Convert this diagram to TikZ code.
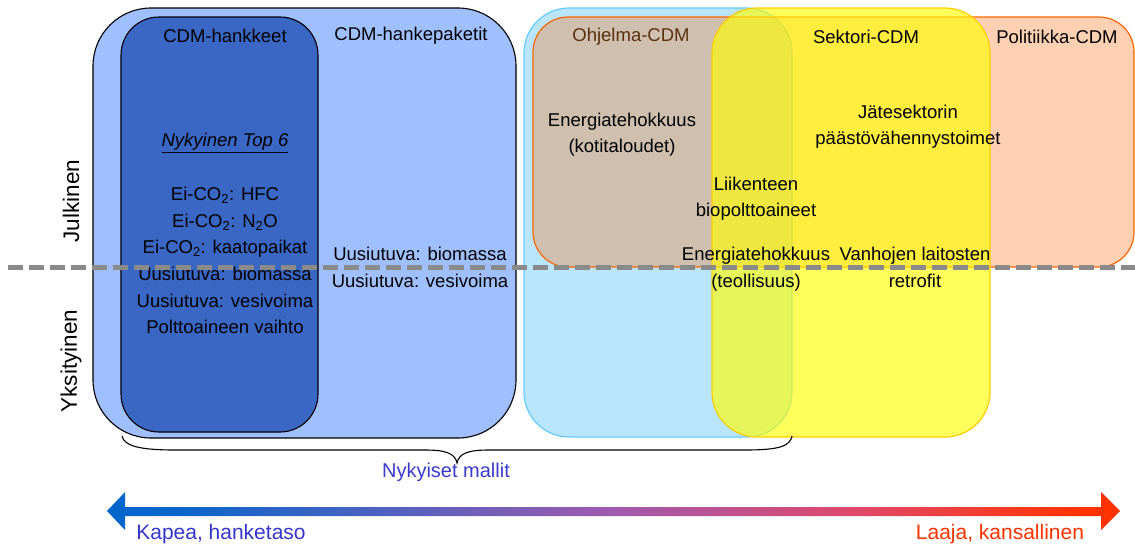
\documentclass[tikz,border=0pt]{standalone}
\usepackage{fontspec}
\setmainfont{Liberation Sans}
\usetikzlibrary{positioning}
\definecolor{pkt}{HTML}{A0BFFF}
\definecolor{hnk}{HTML}{3A66C4}
\definecolor{ohj}{HTML}{B9E6FC}
\definecolor{ohjline}{HTML}{66CCFF}
\definecolor{pol}{HTML}{FF6600}
\definecolor{sek}{HTML}{FFFF00}
\definecolor{sekline}{HTML}{FFCC00}
\definecolor{brn}{HTML}{5C3010}
\definecolor{nyk}{HTML}{3B3BCC}
\definecolor{kap}{HTML}{3535CC}
\definecolor{laa}{HTML}{FF3300}
\definecolor{arrL}{HTML}{0066CC}
\definecolor{arrLM}{HTML}{4A62C0}
\definecolor{arrM}{HTML}{A05AAE}
\definecolor{arrMR}{HTML}{E0486A}
\definecolor{arrR}{HTML}{FF3300}
\definecolor{divgray}{HTML}{8A8A8A}
\tikzset{
  zone/.style={rectangle, anchor=north west, inner sep=0pt, outer sep=0pt},
  txt/.style={font=\fontsize{18.5}{26}\selectfont, align=center, inner sep=0pt},
  side/.style={font=\fontsize{22.5}{26}\selectfont, rotate=90, inner sep=0pt},
  endlbl/.style={font=\fontsize{21}{24}\selectfont, inner sep=0pt},
}
\newcommand{\eico}{Ei-CO\textsubscript{2}}
\pgfdeclarehorizontalshading{widthgrad}{100bp}{color(0bp)=(arrL); color(27bp)=(arrL); color(38bp)=(arrLM); color(50bp)=(arrM); color(62bp)=(arrMR); color(73bp)=(arrR); color(100bp)=(arrR)}

\begin{document}
\begin{tikzpicture}[x=1pt, y=-1pt]
  \useasboundingbox (0,0) rectangle (1135,550);
  % nykyiset mallit
  \node[zone, draw=black, line width=1.1pt, fill=pkt, rounded corners=58pt, minimum width=423pt, minimum height=430pt] (hp) at (93,8) {};
  \node[zone, draw=black, line width=1.1pt, fill=hnk, rounded corners=38pt, minimum width=197pt, minimum height=415pt] (hk) at (121,17) {};
  % laajemmat mallit
  \node[zone, draw=ohjline, line width=1.2pt, fill=ohj, rounded corners=45pt, minimum width=268pt, minimum height=429pt] (oh) at (524,8) {};
  \node[zone, draw=pol, line width=1.2pt, fill=pol, fill opacity=0.3, rounded corners=35pt, minimum width=601pt, minimum height=250pt] (po) at (533,17) {};
  \node[zone, draw=sekline, line width=1.2pt, fill=sek, fill opacity=0.64, rounded corners=45pt, minimum width=278pt, minimum height=429pt] (se) at (712,8) {};

  \node[txt] (hk-t) at (225,36) {CDM-hankkeet};
  \node[txt] (hp-t) at (411,36) {CDM-hankepaketit};
  \node[txt, text=brn] (oh-t) at (631,37) {Ohjelma-CDM};
  \node[txt] (se-t) at (866,37) {Sektori-CDM};
  \node[txt] (po-t) at (1057,37) {Politiikka-CDM};

  \node[txt] (top) at (225,143) {\underline{\textit{Nykyinen Top 6}}};
  \node[txt, anchor=north, font=\fontsize{18.5}{26.6}\selectfont] (hk-l) at (225,187) {\eico: HFC\\\eico: N\textsubscript{2}O\\\eico: kaatopaikat\\Uusiutuva: biomassa\\Uusiutuva: vesivoima\\Polttoaineen vaihto};
  \node[txt, anchor=north, font=\fontsize{18.5}{27}\selectfont] (hp-l) at (420,247) {Uusiutuva: biomassa\\Uusiutuva: vesivoima};
  \node[txt, anchor=north] (koti) at (622,113) {Energiatehokkuus\\(kotitaloudet)};
  \node[txt, anchor=north] (jate) at (908,105) {Jätesektorin\\päästövähennystoimet};
  \node[txt, anchor=north] (liik) at (756,177) {Liikenteen\\biopolttoaineet};
  \node[txt, anchor=north, font=\fontsize{18.5}{27}\selectfont] (teol) at (756,247) {Energiatehokkuus\\(teollisuus)};
  \node[txt, anchor=north, font=\fontsize{18.5}{27}\selectfont] (retro) at (915,247) {Vanhojen laitosten\\retrofit};

  \node[side] (julk) at (71,201) {Julkinen};
  \node[side] (yks) at (71,361) {Yksityinen};

  % julkinen / yksityinen
  \coordinate (divL) at (8,267);
  \coordinate (divR) at (1135,267);
  \draw[divgray, line width=5pt, dash pattern=on 15pt off 6pt] (divL) -- (divR);

  % aaltosulje
  \coordinate (brL) at (122,436);
  \coordinate (brR) at (792,436);
  \coordinate (brT) at (457,463);
  \draw[line width=1.1pt] (brL) .. controls (124,446) and (140,450) .. (175,450) -- (425,450)
    .. controls (445,450) and (455,453) .. (brT)
    .. controls (459,453) and (469,450) .. (489,450) -- (745,450)
    .. controls (780,450) and (790,446) .. (brR);
  \node[endlbl, text=nyk, font=\fontsize{20}{24}\selectfont] (nyk) at (446,472) {Nykyiset mallit};

  % kapea - laaja
  \coordinate (kap) at (107,511);
  \coordinate (laa) at (1120,511);
  \shade[shading=widthgrad]
    (kap) -- (125,492) -- (125,507) -- (1101,507) -- (1101,492) -- (laa)
    -- (1101,530) -- (1101,516) -- (125,516) -- (125,530) -- cycle;
  \node[endlbl, text=kap] (kap-t) at (221,534) {Kapea, hanketaso};
  \node[endlbl, text=laa] (laa-t) at (1000,534) {Laaja, kansallinen};
\end{tikzpicture}
\end{document}
